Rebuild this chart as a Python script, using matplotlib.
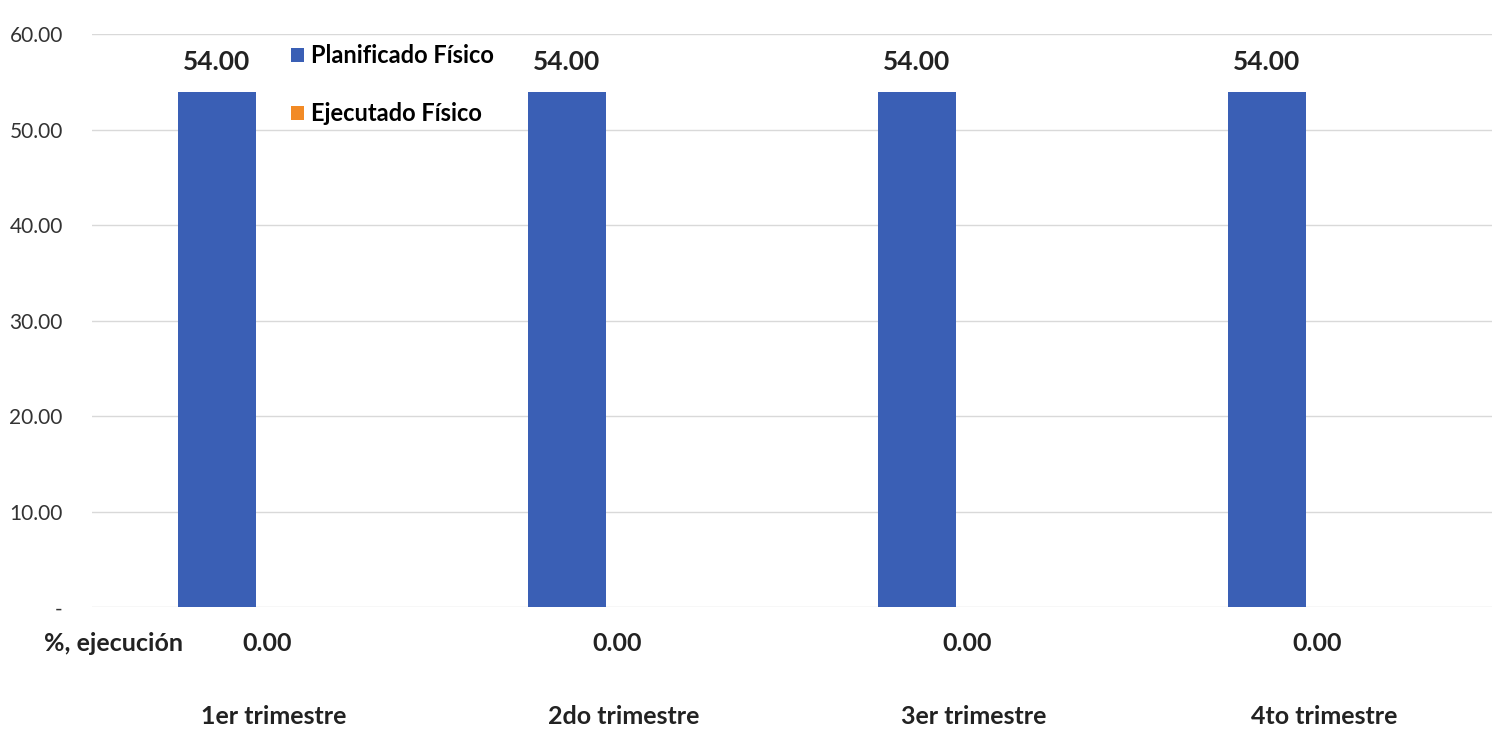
import numpy as np
import matplotlib.pyplot as plt

categories = ['1er trimestre', '2do trimestre', '3er trimestre', '4to trimestre']
planificado = [54.00, 54.00, 54.00, 54.00]
ejecutado = [0.00, 0.00, 0.00, 0.00]
pct_ejecucion = [0.00, 0.00, 0.00, 0.00]
yticks = [0, 10, 20, 30, 40, 50, 60]
ytick_labels = ['-', '10.00', '20.00', '30.00', '40.00', '50.00', '60.00']

plt.rcParams['font.family'] = ['Lato', 'DejaVu Sans']

fig = plt.figure(figsize=(15.07, 7.29), dpi=100)
ax = fig.add_axes([0.061, 0.167, 0.929, 0.786])

x = np.arange(len(categories))
w = 0.223
off = 0.143
ax.bar(x - off, planificado, w, color='#3a5fb5', label='Planificado Físico', zorder=3)
ax.bar(x + off, ejecutado, w, color='#f28a25', label='Ejecutado Físico', zorder=3)

for xi, v in zip(x - off, planificado):
    ax.text(xi, v + 1.8, f'{v:.2f}', ha='center', va='bottom', fontsize=19,
            fontweight='bold', color='#222222')

ax.set_xlim(-0.5, len(categories) - 0.5)
ax.set_ylim(0, 60)
ax.set_yticks(yticks)
ax.set_yticklabels(ytick_labels, fontsize=15, color='#333333')
ax.tick_params(axis='y', length=0, pad=21)
ax.set_xticks([])
ax.grid(axis='y', color='#d9d9d9', linewidth=1, zorder=0)
for s in ax.spines.values():
    s.set_visible(False)

# row of % ejecución under the axis
ax.text(-0.24, -3.8, '%, ejecución', ha='right', va='center',
        fontsize=18, fontweight='bold', color='#222222', clip_on=False)
for xi, v in zip(x, pct_ejecucion):
    ax.text(xi, -3.8, f'{v:.2f}', ha='center', va='center', fontsize=18,
            fontweight='bold', color='#222222')
for xi, c in zip(x, categories):
    ax.text(xi + 0.02, -11.4, c, ha='center', va='center', fontsize=18,
            fontweight='bold', color='#222222')

ax.legend(loc='upper left', bbox_to_anchor=(0.127, 1.02), frameon=False,
          prop={'size': 17, 'weight': 'bold'}, handlelength=0.55, handleheight=0.55,
          handletextpad=0.3, labelspacing=1.5)

fig.savefig('out.png', dpi=100)
